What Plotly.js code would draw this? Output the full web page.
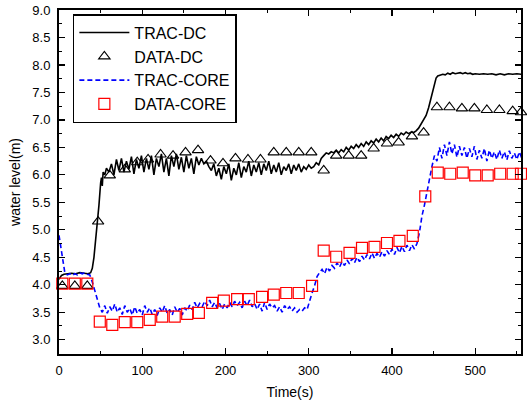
<!DOCTYPE html>
<html>
<head>
<meta charset="utf-8">
<script src="https://cdn.plot.ly/plotly-3.0.1.min.js"></script>
<style>html,body{margin:0;padding:0;background:#fff;}#chart{width:527px;height:406px;}</style>
</head>
<body>
<div id="chart"></div>
<script>
// TRAC-DC (downcomer, code)
const tracDcT = [0,3,6,10,15,20,25,30,35,38,40,42,44,46,48,50,51,52,53,55,57,
60,63,66,69,72,75,78,81,84,87,90,93,96,99,102,105,108,111,114,117,120,123,126,129,132,135,138,141,144,147,150,153,156,159,162,165,168,171,174,177,
180,183,186,189,192,195,198,201,204,207,210,213,216,219,222,225,228,231,234,237,240,243,246,249,252,255,258,261,264,267,270,273,276,279,282,285,288,291,294,297,300,303,306,309,312,315,318,321,324,327,330,333,336,339,342,345,348,351,354,357,360,363,366,369,372,375,378,381,384,387,390,393,396,399,402,405,408,411,414,417,420,423,426,429,432,435,438,441,444,447,449,451,453,455,458,461,464,467,470,473,476,479,482,485,488,491,494,497,500,505,510,515,520,525,530,535,540,545,550,556];
const tracDcY = [4.10,4.17,4.19,4.20,4.21,4.20,4.22,4.21,4.20,4.22,4.30,4.50,4.80,5.10,5.45,5.85,5.95,5.80,6.05,6.00,6.12,
6.05,6.20,6.00,6.28,6.08,6.30,6.05,6.25,6.10,6.33,6.02,6.28,6.12,6.35,6.05,6.30,6.10,6.35,6.00,6.30,6.15,6.38,6.05,6.30,5.98,6.35,6.15,6.38,6.10,6.32,6.05,6.35,6.12,6.30,6.02,6.33,6.18,6.30,6.20,6.25,
6.15,6.08,6.20,5.98,6.12,5.92,6.15,6.02,6.20,5.90,6.12,6.00,6.22,5.95,6.15,6.05,6.25,5.98,6.18,6.05,6.22,6.00,6.20,6.08,6.25,6.02,6.18,6.05,6.22,6.00,6.15,6.08,6.20,6.02,6.18,6.08,6.20,6.05,6.15,6.10,6.18,6.12,6.15,6.22,6.18,6.30,6.35,6.40,6.38,6.42,6.40,6.45,6.40,6.46,6.42,6.50,6.45,6.52,6.48,6.55,6.50,6.57,6.52,6.60,6.55,6.62,6.58,6.65,6.60,6.67,6.62,6.70,6.66,6.72,6.68,6.74,6.70,6.76,6.73,6.78,6.75,6.78,6.77,6.80,6.85,6.92,7.00,7.08,7.22,7.40,7.55,7.68,7.76,7.80,7.82,7.83,7.82,7.85,7.83,7.86,7.84,7.85,7.86,7.84,7.86,7.84,7.85,7.83,7.84,7.83,7.84,7.83,7.84,7.82,7.84,7.82,7.84,7.83,7.84,7.83];

// DATA-DC (measured)
const dataDcT = [4,19,34,47,61,79,94,107,122,137,152,167,182,197,212,227,242,258,273,288,303,318,333,348,363,378,394,408,424,438,454,469,484,499,514,529,545,555];
const dataDcY = [3.98,3.98,3.98,5.15,5.99,6.10,6.23,6.28,6.37,6.35,6.41,6.45,6.26,6.21,6.30,6.28,6.28,6.41,6.41,6.41,6.41,6.08,6.35,6.35,6.35,6.48,6.57,6.59,6.70,6.77,7.23,7.23,7.21,7.21,7.18,7.18,7.16,7.14];

// TRAC-CORE (core, code)
const tracCoreT = [0,1,3,5,7,10,13,16,19,22,25,28,31,34,37,40,43,46,49,52,55,58,61,64,67,70,73,76,79,82,85,88,91,94,97,100,103,106,109,112,115,118,121,124,127,130,133,136,139,142,145,148,151,154,157,160,163,166,169,172,175,178,181,184,187,190,193,196,199,202,205,208,211,214,217,220,223,226,229,232,235,238,241,244,247,250,253,256,259,262,265,268,271,274,277,280,283,286,289,292,295,298,301,304,307,310,313,316,319,322,325,328,331,334,337,340,343,346,349,352,355,358,361,364,367,370,373,376,379,382,385,388,391,394,397,400,403,406,409,412,415,418,421,424,427,430,433,436,439,442,445,448,451,454,457,460,463,466,469,472,475,478,481,484,487,490,493,496,499,502,505,508,511,514,517,520,523,526,529,532,535,538,541,544,547,550,553,556];
const tracCoreY = [4.90,4.80,4.55,4.35,4.22,4.18,4.20,4.17,4.20,4.18,4.22,4.20,4.22,4.19,4.18,4.05,3.90,3.75,3.58,3.50,3.62,3.48,3.60,3.52,3.65,3.50,3.58,3.46,3.62,3.50,3.57,3.45,3.60,3.48,3.55,3.45,3.62,3.50,3.58,3.46,3.55,3.44,3.58,3.50,3.62,3.48,3.55,3.45,3.60,3.50,3.57,3.45,3.58,3.52,3.63,3.55,3.68,3.58,3.66,3.60,3.70,3.62,3.72,3.60,3.68,3.58,3.66,3.55,3.65,3.58,3.68,3.60,3.70,3.62,3.68,3.58,3.70,3.62,3.72,3.60,3.66,3.55,3.65,3.52,3.68,3.55,3.65,3.58,3.62,3.52,3.60,3.50,3.62,3.55,3.60,3.52,3.58,3.50,3.55,3.52,3.58,3.55,3.72,3.85,3.98,4.15,4.22,4.28,4.20,4.32,4.25,4.35,4.30,4.40,4.32,4.42,4.35,4.45,4.38,4.48,4.40,4.50,4.42,4.52,4.45,4.55,4.47,4.58,4.48,4.57,4.50,4.60,4.52,4.62,4.55,4.65,4.55,4.68,4.58,4.70,4.60,4.72,4.62,4.73,4.65,4.75,4.95,5.25,5.45,5.70,5.97,6.15,6.35,6.25,6.50,6.30,6.55,6.35,6.60,6.38,6.55,6.32,6.52,6.35,6.50,6.30,6.48,6.33,6.52,6.28,6.45,6.30,6.48,6.25,6.45,6.30,6.42,6.28,6.45,6.30,6.42,6.27,6.44,6.30,6.40,6.28,6.42,6.30];

// DATA-CORE (measured)
const dataCoreT = [4,19,34,49,64,79,94,109,124,139,154,168,184,198,214,228,244,258,273,288,304,318,333,349,364,379,394,409,425,440,455,470,485,500,515,530,545,555];
const dataCoreY = [4.02,4.02,4.02,3.33,3.27,3.32,3.32,3.36,3.42,3.42,3.47,3.49,3.67,3.71,3.74,3.74,3.78,3.82,3.85,3.85,3.98,4.62,4.51,4.58,4.67,4.69,4.76,4.80,4.89,5.61,6.04,6.02,6.04,5.99,5.99,6.02,6.02,6.02];

const seriesNames = ['TRAC-DC','DATA-DC','TRAC-CORE','DATA-CORE'];
const xTitle = 'Time(s)';
const yTitle = 'water level(m)';

const traces = [
  {x: tracDcT, y: tracDcY, name: seriesNames[0], type: 'scatter', mode: 'lines',
   line: {color: '#000000', width: 1.6}},
  {x: dataDcT, y: dataDcY, name: seriesNames[1], type: 'scatter', mode: 'markers', cliponaxis: false,
   marker: {symbol: 'triangle-up-open', size: 10, color: '#000000', line: {width: 1.1, color: '#000000'}}},
  {x: tracCoreT, y: tracCoreY, name: seriesNames[2], type: 'scatter', mode: 'lines',
   line: {color: '#0000ff', width: 1.6, dash: '5px,3px'}},
  {x: dataCoreT, y: dataCoreY, name: seriesNames[3], type: 'scatter', mode: 'markers', cliponaxis: false,
   marker: {symbol: 'square-open', size: 11, color: '#ff0000', line: {width: 1.2, color: '#ff0000'}}}
];

const axisCommon = {
  showgrid: false, zeroline: false,
  showline: true, linecolor: '#000', linewidth: 2,
  mirror: 'allticks', ticks: 'inside', ticklen: 6, tickwidth: 1.2, tickcolor: '#000',
  tickfont: {family: 'Liberation Sans, Arial, sans-serif', size: 13, color: '#000'}
};

const layout = {
  width: 527, height: 406,
  margin: {l: 59, r: 6, t: 10, b: 52},
  paper_bgcolor: '#fff', plot_bgcolor: '#fff',
  font: {family: 'Liberation Sans, Arial, sans-serif', color: '#000'},
  showlegend: true,
  legend: {
    x: 0.03, y: 0.988, xanchor: 'left', yanchor: 'top',
    bgcolor: '#fff', bordercolor: '#000', borderwidth: 1.5,
    font: {family: 'Liberation Sans, Arial, sans-serif', size: 16, color: '#000'},
    tracegroupgap: 0, itemwidth: 50
  },
  xaxis: Object.assign({}, axisCommon, {
    range: [0, 555], tickmode: 'linear', tick0: 0, dtick: 100,
    minor: {ticks: 'inside', dtick: 50, ticklen: 3, tickwidth: 1, tickcolor: '#000'},
    ticklabelstandoff: 3,
    title: {text: xTitle, font: {size: 14, family: 'Liberation Sans, Arial, sans-serif'}, standoff: 11}
  }),
  yaxis: Object.assign({}, axisCommon, {
    range: [2.74, 9.0], tickmode: 'linear', tick0: 3, dtick: 0.5, tickformat: '.1f',
    minor: {ticks: 'inside', dtick: 0.25, tick0: 3, ticklen: 3, tickwidth: 1, tickcolor: '#000'},
    ticklabelstandoff: 4,
    title: {text: yTitle, font: {size: 14, family: 'Liberation Sans, Arial, sans-serif'}, standoff: 8}
  })
};

Plotly.newPlot('chart', traces, layout, {staticPlot: true, displayModeBar: false});
</script>
</body>
</html>
